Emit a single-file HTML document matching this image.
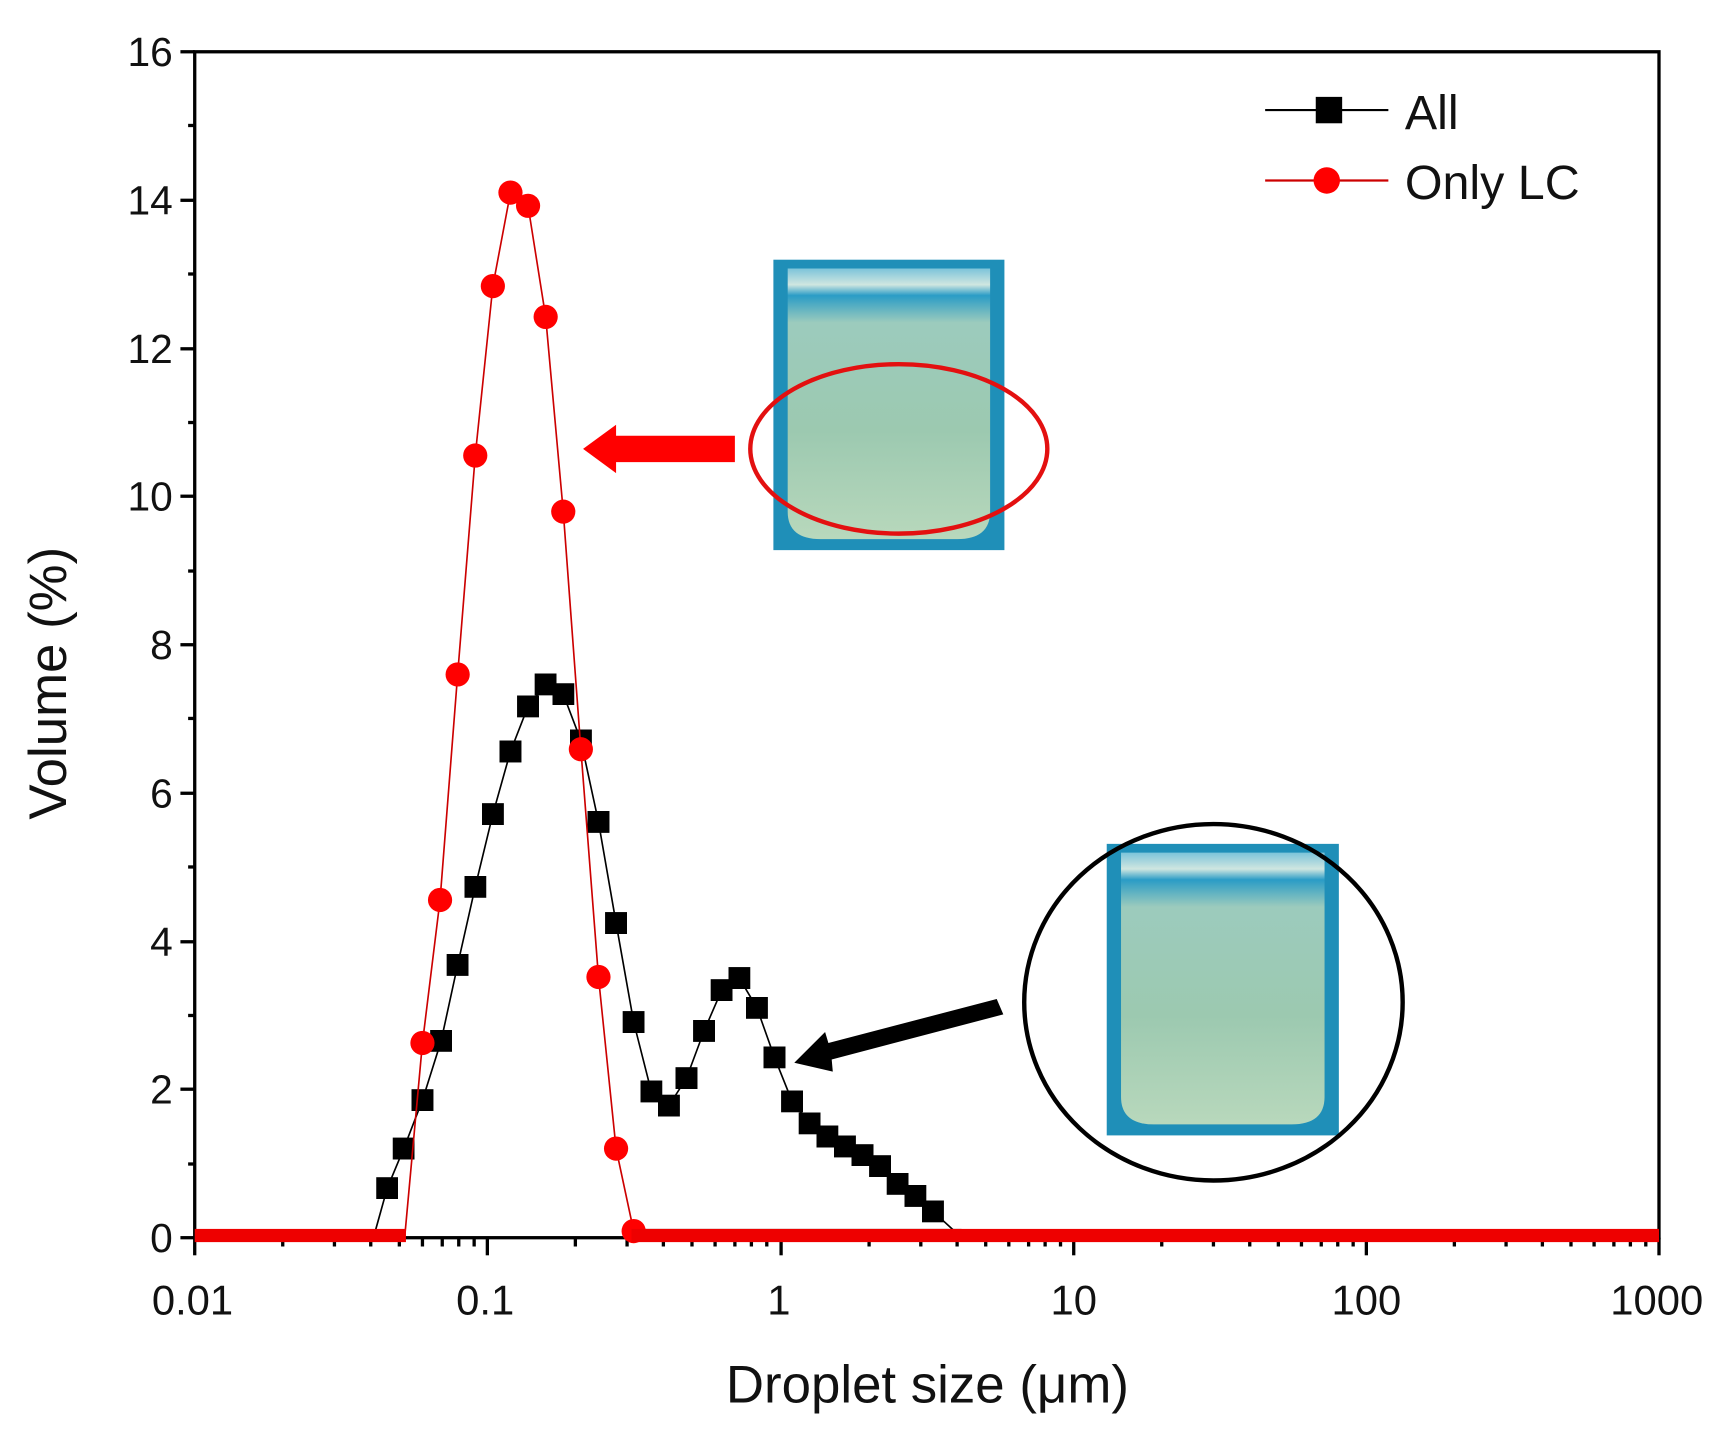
<!DOCTYPE html>
<html><head><meta charset="utf-8"><style>html,body{margin:0;padding:0;background:#fff}svg{display:block}</style></head>
<body>
<svg width="1725" height="1438" viewBox="0 0 1568 1307" xmlns="http://www.w3.org/2000/svg" font-family="Liberation Sans, Arial, sans-serif">
<defs>
<marker id="sq" markerWidth="20" markerHeight="20" refX="10" refY="10" markerUnits="userSpaceOnUse"><rect x="0" y="0" width="20" height="20" fill="#000"/></marker>
<marker id="ci" markerWidth="24" markerHeight="24" refX="12" refY="12" markerUnits="userSpaceOnUse"><circle cx="12" cy="12" r="11" fill="#f00"/></marker>
<linearGradient id="liq" x1="0" y1="0" x2="0" y2="1"><stop offset="0" stop-color="#7cc4da"/><stop offset="0.06" stop-color="#cfe6e0"/><stop offset="0.1" stop-color="#2a9cc6"/><stop offset="0.2" stop-color="#9ccbbd"/><stop offset="0.6" stop-color="#9cc9b0"/><stop offset="1" stop-color="#b8d8bc"/></linearGradient>
</defs>
<rect width="1568" height="1307" fill="#fff"/>
<g>
<rect x="703" y="236" width="210" height="264" fill="#1f8fb8"/>
<path d="M716 244 H900 V465 Q900 490 870 490 H746 Q716 490 716 465 Z" fill="url(#liq)"/>
<rect x="1006" y="767" width="211" height="265" fill="#1f8fb8"/>
<path d="M1019 775 H1204 V997 Q1204 1022 1174 1022 H1049 Q1019 1022 1019 997 Z" fill="url(#liq)"/>
</g>
<rect x="177" y="47" width="1331" height="1078" fill="none" stroke="#000" stroke-width="3"/>
<g stroke="#000" stroke-width="3">
<line x1="164" y1="47" x2="177" y2="47"/><line x1="164" y1="182" x2="177" y2="182"/><line x1="164" y1="317" x2="177" y2="317"/><line x1="164" y1="451" x2="177" y2="451"/><line x1="164" y1="586" x2="177" y2="586"/><line x1="164" y1="721" x2="177" y2="721"/><line x1="164" y1="856" x2="177" y2="856"/><line x1="164" y1="990" x2="177" y2="990"/><line x1="164" y1="1125" x2="177" y2="1125"/>
<line x1="171" y1="114" x2="177" y2="114"/><line x1="171" y1="249" x2="177" y2="249"/><line x1="171" y1="384" x2="177" y2="384"/><line x1="171" y1="519" x2="177" y2="519"/><line x1="171" y1="653" x2="177" y2="653"/><line x1="171" y1="788" x2="177" y2="788"/><line x1="171" y1="923" x2="177" y2="923"/><line x1="171" y1="1058" x2="177" y2="1058"/>
</g>
<g font-size="37" fill="#111" text-anchor="end">
<text x="157" y="60">16</text><text x="157" y="195">14</text><text x="157" y="330">12</text><text x="157" y="464">10</text><text x="157" y="599">8</text><text x="157" y="734">6</text><text x="157" y="869">4</text><text x="157" y="1003">2</text><text x="157" y="1138">0</text>
</g>
<g stroke="#000" stroke-width="3">
<line x1="177" y1="1125" x2="177" y2="1141"/><line x1="443" y1="1125" x2="443" y2="1141"/><line x1="710" y1="1125" x2="710" y2="1141"/><line x1="976" y1="1125" x2="976" y2="1141"/><line x1="1242" y1="1125" x2="1242" y2="1141"/><line x1="1508" y1="1125" x2="1508" y2="1141"/>
<path d="M257 1125v8M304 1125v8M337 1125v8M363 1125v8M384 1125v8M402 1125v8M417 1125v8M431 1125v8
M523 1125v8M570 1125v8M603 1125v8M629 1125v8M650 1125v8M668 1125v8M683 1125v8M697 1125v8
M790 1125v8M837 1125v8M870 1125v8M896 1125v8M917 1125v8M935 1125v8M950 1125v8M964 1125v8
M1056 1125v8M1103 1125v8M1136 1125v8M1162 1125v8M1183 1125v8M1201 1125v8M1216 1125v8M1230 1125v8
M1322 1125v8M1369 1125v8M1402 1125v8M1428 1125v8M1449 1125v8M1467 1125v8M1482 1125v8M1496 1125v8"/>
</g>
<g font-size="38" fill="#111" text-anchor="middle">
<text x="175" y="1195">0.01</text><text x="441" y="1195">0.1</text><text x="708" y="1195">1</text><text x="976" y="1195">10</text><text x="1242" y="1195">100</text><text x="1506" y="1195">1000</text>
</g>
<text x="843" y="1275" font-size="48" text-anchor="middle" fill="#111">Droplet size (μm)</text>
<text transform="translate(60,621) rotate(-90)" font-size="48" text-anchor="middle" fill="#111">Volume (%)</text>
<polyline fill="none" stroke="#000" stroke-width="1.5" marker-mid="url(#sq)"
points="340,1123 352,1080 367,1044 384,1000 401,946 416,877 432,806 448,740 464,683 480,642 496,622 512,631 528,673 544,747 560,839 576,929 592,992 608,1005 624,980 640,937 656,900 672,889 688,916 704,961 720,1001 736,1021 752,1033 768,1042 784,1050 800,1060 816,1076 832,1087 848,1101 872,1123"/>
<rect x="574" y="1117" width="300" height="8" fill="#000"/>
<polyline fill="none" stroke="#c00" stroke-width="1.5" marker-mid="url(#ci)"
points="368,1123 384,948 400,818 416,613 432,414 448,260 464,175 480,187 496,288 512,465 528,681 544,888 560,1044 576,1119 580,1123"/>
<rect x="177" y="1117" width="192" height="12" fill="#e00"/>
<rect x="574" y="1117" width="934" height="12" fill="#e00"/>
<ellipse cx="817" cy="408" rx="135" ry="77" fill="none" stroke="#e31010" stroke-width="4"/>
<polygon points="668,396 560,396 560,386 530,408 560,430 560,420 668,420" fill="#f00"/>
<ellipse cx="1103" cy="911" rx="172" ry="162" fill="none" stroke="#000" stroke-width="4"/>
<polygon points="906,908 753,948 750,938 722,966 757,974 756,963 912,922" fill="#000"/>
<line x1="1150" y1="100" x2="1262" y2="100" stroke="#000" stroke-width="2"/>
<rect x="1196" y="88" width="24" height="24" fill="#000"/>
<text x="1277" y="117" font-size="44" fill="#111">All</text>
<line x1="1150" y1="164" x2="1262" y2="164" stroke="#c00" stroke-width="2"/>
<circle cx="1206" cy="164" r="12" fill="#f00"/>
<text x="1277" y="181" font-size="44" fill="#111">Only LC</text>
</svg>
</body></html>
